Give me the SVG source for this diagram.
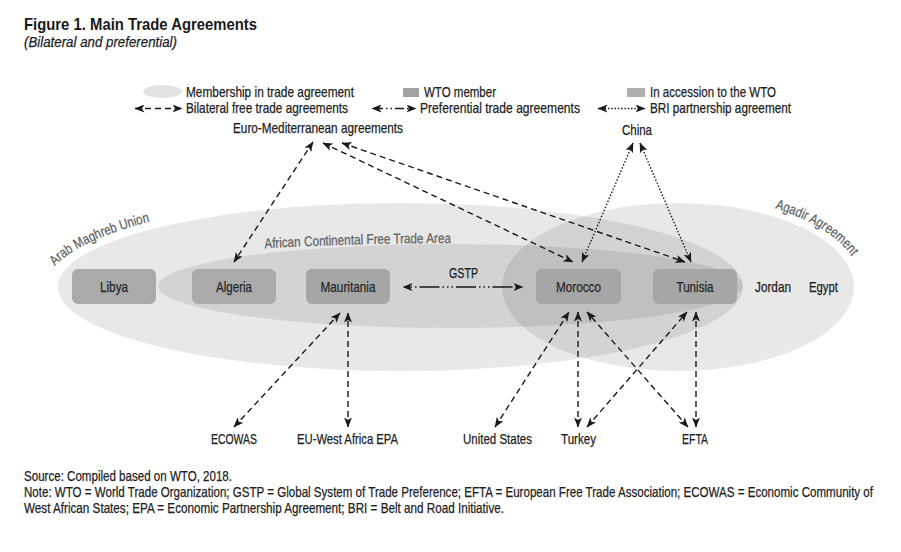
<svg xmlns="http://www.w3.org/2000/svg" width="901" height="552" viewBox="0 0 901 552">
<defs>
<style>
text{font-family:"Liberation Sans Narrow","Liberation Sans",Arial,sans-serif;fill:#1e1e1e;stroke:#1e1e1e;stroke-width:0.25;font-size:14.5px}
.title{font-weight:bold;font-size:16.5px;fill:#1a1a1a;stroke:none}
.sub{font-style:italic}
.lbl{text-anchor:middle;fill:#262626;stroke:#262626}
.arc{fill:#626262;stroke:#626262;font-size:14px}
.zone{fill:#000;fill-opacity:0.09}
.box{fill:#a6a6a6}
.acc{fill:#aaaaaa}
.c{fill:none;stroke:#1a1a1a;stroke-width:1.4;marker-start:url(#ah);marker-end:url(#ah)}
.dash{stroke-dasharray:6 4}
.dot{stroke-dasharray:1.5 1.8}
.dd{stroke-dasharray:20 3 1.5 3 1.5 3 1.5 3;stroke-dashoffset:20}
.ddl{stroke-dasharray:9 3 1.5 3 1.5 3;stroke-dashoffset:-2}
</style>
<marker id="ah" viewBox="0 0 10 8" refX="9.5" refY="4" markerWidth="10" markerHeight="8" markerUnits="userSpaceOnUse" orient="auto-start-reverse">
<path d="M0,0 L10,4 L0,8 L2.5,4 Z" fill="#1a1a1a"/>
</marker>
<path id="pAMU" d="M55,266 A351.5,93 0 0,1 199,210.8" fill="none"/>
<path id="pAF" d="M265,248.3 A399,44 0 0,1 470,243.05" fill="none"/>
<path id="pAG" d="M775,208.3 A184,92 0 0,1 861.3,279" fill="none"/>
</defs>

<g id="heading">
<text x="24" y="29.5" class="title" textLength="233" lengthAdjust="spacingAndGlyphs">Figure 1. Main Trade Agreements</text>
<text x="24" y="47" class="sub" textLength="153" lengthAdjust="spacingAndGlyphs">(Bilateral and preferential)</text>
</g>

<g id="legend">
<ellipse cx="162.5" cy="91.5" rx="19.5" ry="6.5" fill="#e3e3e3"/>
<text x="186" y="96.7" textLength="168" lengthAdjust="spacingAndGlyphs">Membership in trade agreement</text>
<text x="186" y="113.3" textLength="162" lengthAdjust="spacingAndGlyphs">Bilateral free trade agreements</text>
<rect x="403" y="88" width="16" height="9" fill="#a2a2a2"/>
<text x="424" y="96.7" textLength="72" lengthAdjust="spacingAndGlyphs">WTO member</text>
<text x="420" y="113.3" textLength="160" lengthAdjust="spacingAndGlyphs">Preferential trade agreements</text>
<rect x="627" y="88" width="18" height="9" fill="#afafaf"/>
<text x="650" y="96.7" textLength="126" lengthAdjust="spacingAndGlyphs">In accession to the WTO</text>
<text x="650" y="113.3" textLength="141" lengthAdjust="spacingAndGlyphs">BRI partnership agreement</text>
<path class="c dash" d="M135,108.5 L182,108.5"/>
<path class="c ddl" d="M372,108.5 L416,108.5"/>
<path class="c dot" d="M598,108.5 L645,108.5"/>
</g>

<g id="zone-amu">
<ellipse class="zone" cx="400.5" cy="287" rx="342.5" ry="84"/>
<text class="arc"><textPath href="#pAMU" textLength="106" lengthAdjust="spacingAndGlyphs">Arab Maghreb Union</textPath></text>
</g>
<g id="zone-afcfta">
<ellipse class="zone" cx="450.5" cy="286" rx="292.5" ry="42"/>
<text class="arc"><textPath href="#pAF" textLength="186" lengthAdjust="spacingAndGlyphs">African Continental Free Trade Area</textPath></text>
</g>
<g id="zone-agadir">
<ellipse class="zone" cx="678" cy="287" rx="176" ry="84"/>
<text class="arc"><textPath href="#pAG" textLength="92" lengthAdjust="spacingAndGlyphs">Agadir Agreement</textPath></text>
</g>

<g id="libya"><rect class="acc" x="72" y="269" width="84" height="35" rx="6"/><text class="lbl" x="114" y="291.5" textLength="28" lengthAdjust="spacingAndGlyphs">Libya</text></g>
<g id="algeria"><rect class="acc" x="192" y="269" width="84" height="35" rx="6"/><text class="lbl" x="234" y="291.5" textLength="36" lengthAdjust="spacingAndGlyphs">Algeria</text></g>
<g id="mauritania"><rect class="box" x="306" y="269" width="84" height="35" rx="6"/><text class="lbl" x="348" y="291.5" textLength="55" lengthAdjust="spacingAndGlyphs">Mauritania</text></g>
<g id="morocco"><rect class="box" x="536" y="269" width="85" height="35" rx="6"/><text class="lbl" x="578.5" y="291.5" textLength="45" lengthAdjust="spacingAndGlyphs">Morocco</text></g>
<g id="tunisia"><rect class="box" x="653" y="269" width="84" height="35" rx="6"/><text class="lbl" x="695" y="291.5" textLength="37" lengthAdjust="spacingAndGlyphs">Tunisia</text></g>
<g id="jordan"><text x="755" y="291.5" textLength="36" lengthAdjust="spacingAndGlyphs">Jordan</text></g>
<g id="egypt"><text x="809" y="291.5" textLength="29" lengthAdjust="spacingAndGlyphs">Egypt</text></g>

<g id="euromed"><text x="233" y="133" textLength="170" lengthAdjust="spacingAndGlyphs">Euro-Mediterranean agreements</text></g>
<g id="china"><text x="622" y="135" textLength="30" lengthAdjust="spacingAndGlyphs">China</text></g>
<g id="ecowas"><text x="211" y="443.5" textLength="46" lengthAdjust="spacingAndGlyphs">ECOWAS</text></g>
<g id="euwaepa"><text x="297" y="443.5" textLength="101" lengthAdjust="spacingAndGlyphs">EU-West Africa EPA</text></g>
<g id="us"><text x="463" y="443.5" textLength="69" lengthAdjust="spacingAndGlyphs">United States</text></g>
<g id="turkey"><text x="561" y="443.5" textLength="35" lengthAdjust="spacingAndGlyphs">Turkey</text></g>
<g id="efta"><text x="682" y="443.5" textLength="26" lengthAdjust="spacingAndGlyphs">EFTA</text></g>

<g id="connectors">
<path class="c dash" d="M313,142 L234,262"/>
<path class="c dash" d="M323,143 L573,262"/>
<path class="c dash" d="M342,143 L685,262"/>
<path class="c dot" d="M633,143 L582,262"/>
<path class="c dot" d="M640,143 L691,262"/>
<path class="c dd" d="M403,287 L523,287"/>
<text x="449" y="278" textLength="29" lengthAdjust="spacingAndGlyphs">GSTP</text>
<path class="c dash" d="M234,427 L340,313"/>
<path class="c dash" d="M348,427 L348,313"/>
<path class="c dash" d="M495,427 L569,312"/>
<path class="c dash" d="M578,427 L578,312"/>
<path class="c dash" d="M688,427 L587,312"/>
<path class="c dash" d="M587,427 L687,312"/>
<path class="c dash" d="M696,427 L696,312"/>
</g>

<g id="notes">
<text x="24" y="481" textLength="208" lengthAdjust="spacingAndGlyphs">Source: Compiled based on WTO, 2018.</text>
<text x="24" y="497.3" textLength="849" lengthAdjust="spacingAndGlyphs">Note: WTO = World Trade Organization; GSTP = Global System of Trade Preference; EFTA = European Free Trade Association; ECOWAS = Economic Community of</text>
<text x="24" y="513.3" textLength="480" lengthAdjust="spacingAndGlyphs">West African States; EPA = Economic Partnership Agreement; BRI = Belt and Road Initiative.</text>
</g>
</svg>
